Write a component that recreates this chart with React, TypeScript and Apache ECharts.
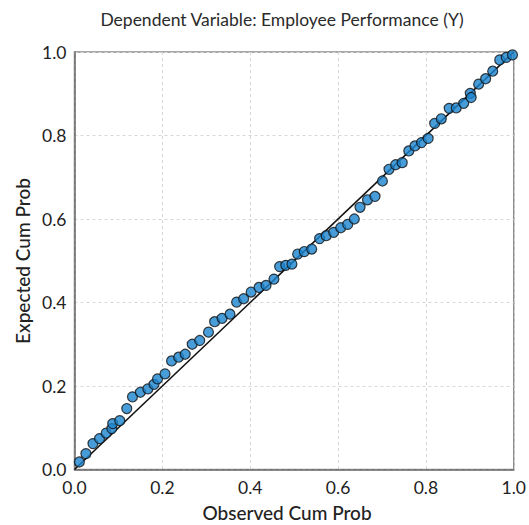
import React, { useEffect, useRef } from "react";
import * as echarts from "echarts";

const titleText = "Dependent Variable: Employee Performance (Y)";
const xName = "Observed Cum Prob";
const yName = "Expected Cum Prob";

const observed = [
  0.011, 0.026, 0.042, 0.057, 0.072, 0.085, 0.087, 0.103, 0.119, 0.132,
  0.150, 0.167, 0.181, 0.189, 0.206, 0.221, 0.237, 0.252, 0.268, 0.285,
  0.305, 0.319, 0.336, 0.354, 0.369, 0.385, 0.402, 0.420, 0.436, 0.454,
  0.467, 0.481, 0.495, 0.508, 0.523, 0.540, 0.558, 0.573, 0.590, 0.606,
  0.622, 0.637, 0.650, 0.667, 0.684, 0.701, 0.716, 0.731, 0.746, 0.761,
  0.775, 0.790, 0.805, 0.820, 0.835, 0.853, 0.869, 0.886, 0.901, 0.903,
  0.920, 0.936, 0.952, 0.968, 0.983, 0.997,
];
const expected = [
  0.018, 0.038, 0.062, 0.074, 0.087, 0.098, 0.110, 0.117, 0.146, 0.174,
  0.185, 0.193, 0.204, 0.217, 0.229, 0.260, 0.269, 0.276, 0.300, 0.309,
  0.329, 0.354, 0.362, 0.372, 0.401, 0.409, 0.425, 0.436, 0.441, 0.456,
  0.486, 0.489, 0.492, 0.516, 0.522, 0.528, 0.553, 0.560, 0.568, 0.579,
  0.587, 0.600, 0.628, 0.646, 0.654, 0.691, 0.719, 0.730, 0.735, 0.763,
  0.775, 0.783, 0.793, 0.829, 0.840, 0.865, 0.866, 0.877, 0.901, 0.891,
  0.923, 0.936, 0.954, 0.981, 0.987, 0.993,
];
const refLine = [
  [0, 0],
  [1, 1],
];

const FONT = "Lato, 'Open Sans', sans-serif";

export default function App() {
  const ref = useRef<HTMLDivElement>(null);
  useEffect(() => {
    if (!ref.current) return;
    const chart = echarts.init(ref.current, undefined, { renderer: "svg" });
    const points = observed.map((x, i) => [x, expected[i]]);
    chart.setOption({
      animation: false,
      backgroundColor: "#ffffff",
      textStyle: { fontFamily: FONT },
      grid: {
        left: 74.5,
        right: 12,
        top: 52,
        bottom: 55.5,
        show: true,
        borderColor: "#8a8a8a",
        borderWidth: 1.5,
      },
      xAxis: {
        type: "value",
        min: 0,
        max: 1,
        interval: 0.2,
        axisLine: { show: true, lineStyle: { color: "#6a6a6a", width: 1.5 } },
        axisTick: { show: false },
        axisLabel: {
          color: "#222",
          fontSize: 17.5,
          fontFamily: FONT,
          margin: 9,
          formatter: (v: number) => v.toFixed(1),
        },
        splitLine: {
          show: true,
          lineStyle: { color: "#d6d6d6", type: [3, 3], width: 1 },
        },
      },
      yAxis: {
        type: "value",
        min: 0,
        max: 1,
        interval: 0.2,
        axisLine: { show: true, lineStyle: { color: "#6a6a6a", width: 1.5 } },
        axisTick: { show: false },
        axisLabel: {
          color: "#222",
          fontSize: 17.5,
          fontFamily: FONT,
          margin: 8,
          formatter: (v: number) => v.toFixed(1),
        },
        splitLine: {
          show: true,
          lineStyle: { color: "#d6d6d6", type: [3, 3], width: 1 },
        },
      },
      graphic: [
        {
          type: "text",
          x: 282,
          y: 19,
          style: {
            text: titleText,
            fontSize: 17.5,
            fontFamily: FONT,
            fill: "#2a2a2a",
            align: "center",
            verticalAlign: "middle",
          },
        },
        {
          type: "text",
          x: 287,
          y: 512,
          style: {
            text: xName,
            fontSize: 19,
            fontWeight: 500,
            fontFamily: FONT,
            fill: "#222",
            align: "center",
            verticalAlign: "middle",
          },
        },
        {
          type: "text",
          x: 22,
          y: 261,
          rotation: Math.PI / 2,
          style: {
            text: yName,
            fontSize: 19,
            fontWeight: 500,
            fontFamily: FONT,
            fill: "#222",
            align: "center",
            verticalAlign: "middle",
          },
        },
      ],
      series: [
        {
          type: "line",
          data: refLine,
          symbol: "none",
          lineStyle: { color: "#111", width: 1.6 },
          z: 2,
        },
        {
          type: "scatter",
          data: points,
          symbol: "circle",
          symbolSize: 10,
          itemStyle: { color: "#1a84d0", borderColor: "#111", borderWidth: 1.2 },
          z: 3,
        },
      ],
    });
    return () => chart.dispose();
  }, []);
  return <div ref={ref} style={{ width: 529, height: 525, position: "absolute", left: 0, top: 0 }} />;
}
